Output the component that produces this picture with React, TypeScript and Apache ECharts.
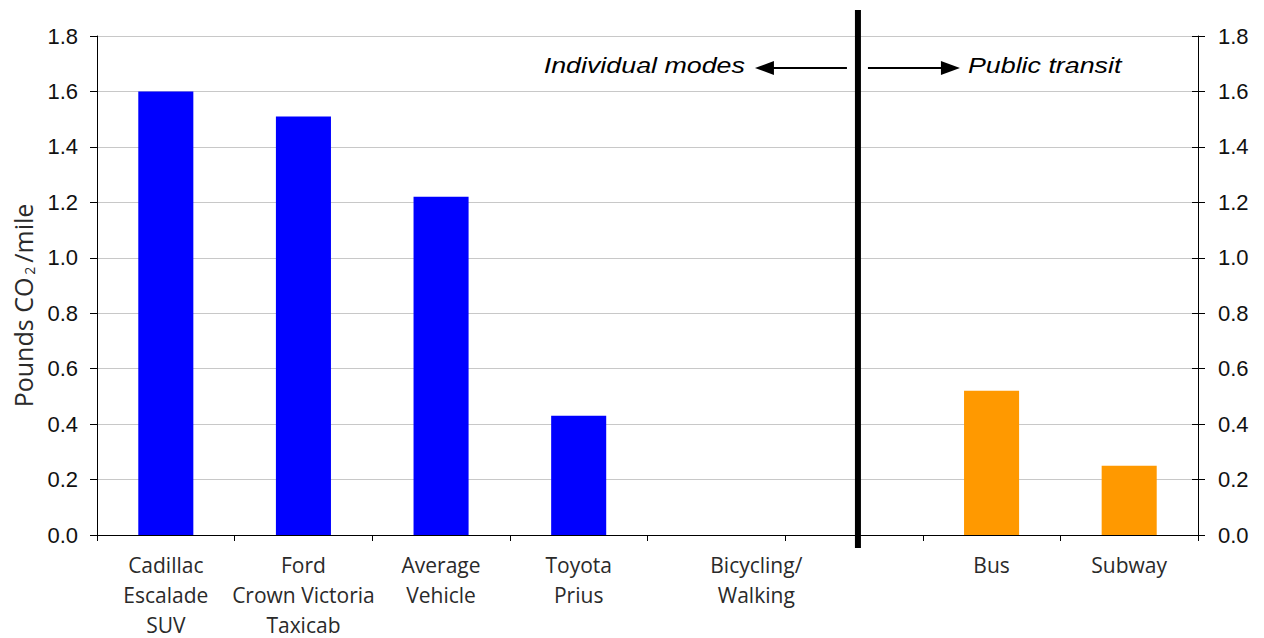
import React, { useEffect, useRef } from "react";
import * as echarts from "echarts";

const categories = [
  "Cadillac\nEscalade\nSUV",
  "Ford\nCrown Victoria\nTaxicab",
  "Average\nVehicle",
  "Toyota\nPrius",
  "Bicycling/\nWalking",
  "",
  "Bus",
  "Subway",
];
const individualValues: (number | string)[] = [1.6, 1.51, 1.22, 0.43, 0, "-", "-", "-"];
const transitValues: (number | string)[] = ["-", "-", "-", "-", "-", "-", 0.52, 0.25];
const yMin = 0;
const yMax = 1.8;
const yStep = 0.2;
const dividerIndex = 5;
const leftNote = "Individual modes";
const rightNote = "Public transit";
const yTitleParts = ["Pounds CO", "2", "/mile"];

const catFont = "'Open Sans', 'Noto Sans', sans-serif";
const numFont = "'Liberation Sans', Arial, sans-serif";

export default function App() {
  const ref = useRef<HTMLDivElement>(null);
  useEffect(() => {
    if (!ref.current) return;
    const chart = echarts.init(ref.current, null, { renderer: "svg" });
    const yLabel = {
      fontFamily: numFont,
      fontSize: 22,
      color: "#111",
      formatter: (v: number) => v.toFixed(1),
    };
    chart.setOption({
      animation: false,
      backgroundColor: "#fff",
      grid: {
        left: 97,
        right: 66,
        top: 36,
        bottom: 103,
        containLabel: false,
        outerBoundsMode: "none",
      },
      xAxis: {
        type: "category",
        data: categories,
        axisLine: { lineStyle: { color: "#000", width: 1 } },
        axisTick: { show: true, interval: 0, length: 6, lineStyle: { color: "#000" } },
        axisLabel: {
          interval: 0,
          margin: 15,
          fontFamily: catFont,
          fontSize: 21,
          lineHeight: 30,
          color: "#2a2a2a",
          formatter: (v: string, i: number) =>
            i === 4
              ? v
                  .split("\n")
                  .map((l) => `{shift|${l}}`)
                  .join("\n")
              : v,
          rich: {
            shift: {
              padding: [0, 0, 0, 80],
              fontFamily: catFont,
              fontSize: 21,
              lineHeight: 30,
              color: "#2a2a2a",
            },
          },
        },
      },
      yAxis: [
        {
          type: "value",
          min: yMin,
          max: yMax,
          interval: yStep,
          position: "left",
          name: `${yTitleParts[0]}{sub|${yTitleParts[1]}}${yTitleParts[2]}`,
          nameLocation: "middle",
          nameRotate: 90,
          nameGap: 60,
          nameTextStyle: {
            fontFamily: catFont,
            fontSize: 25,
            color: "#2a2a2a",
            padding: [0, 40, 0, 0],
            rich: {
              sub: {
                fontFamily: catFont,
                fontSize: 14,
                color: "#2a2a2a",
                padding: [14, 4, 0, 3],
              },
            },
          },
          axisLine: { show: true, lineStyle: { color: "#000", width: 1 } },
          axisTick: { show: true, length: 7, lineStyle: { color: "#000" } },
          axisLabel: { ...yLabel, margin: 19 },
          splitLine: { show: true, lineStyle: { color: "#c8c8c8", width: 1 } },
        },
        {
          type: "value",
          min: yMin,
          max: yMax,
          interval: yStep,
          position: "right",
          axisLine: { show: true, lineStyle: { color: "#000", width: 1 } },
          axisTick: { show: true, length: 7, lineStyle: { color: "#000" } },
          axisLabel: { ...yLabel, margin: 20 },
          splitLine: { show: false },
        },
        {
          type: "value",
          min: yMin,
          max: yMax,
          interval: yStep,
          position: "right",
          offset: 0,
          axisLine: { show: false },
          axisTick: { show: true, inside: true, length: 6, lineStyle: { color: "#000" } },
          axisLabel: { show: false },
          splitLine: { show: false },
        },
      ],
      series: [
        {
          type: "bar",
          stack: "all",
          barWidth: "40%",
          data: individualValues,
          itemStyle: { color: "#0000ff" },
        },
        {
          type: "bar",
          stack: "all",
          barWidth: "40%",
          data: transitValues,
          itemStyle: { color: "#ff9900" },
        },
      ],
    });

    const x = (chart.convertToPixel({ xAxisIndex: 0 }, dividerIndex) as number) + 4;
    const yTop = chart.convertToPixel({ yAxisIndex: 0 }, yMax) as number;
    const yBot = chart.convertToPixel({ yAxisIndex: 0 }, yMin) as number;
    const ay = yTop + 32;
    const textStyle = {
      fontFamily: numFont,
      fontStyle: "italic",
      fontSize: 22,
      fill: "#000",
      verticalAlign: "middle",
    };
    chart.setOption({
      graphic: [
        {
          type: "line",
          shape: { x1: x, y1: yTop - 26, x2: x, y2: yBot + 13 },
          style: { stroke: "#000", lineWidth: 6 },
          z: 100,
        },
        {
          type: "line",
          shape: { x1: x - 11, y1: ay, x2: x - 88, y2: ay },
          style: { stroke: "#000", lineWidth: 2 },
        },
        {
          type: "polygon",
          shape: { points: [[x - 103, ay], [x - 84, ay - 7], [x - 84, ay + 7]] },
          style: { fill: "#000" },
        },
        {
          type: "line",
          shape: { x1: x + 10, y1: ay, x2: x + 86, y2: ay },
          style: { stroke: "#000", lineWidth: 2 },
        },
        {
          type: "polygon",
          shape: { points: [[x + 102, ay], [x + 83, ay - 7], [x + 83, ay + 7]] },
          style: { fill: "#000" },
        },
        {
          type: "text",
          x: x - 113,
          y: ay - 3,
          scaleX: 1.22,
          style: { ...textStyle, text: leftNote, align: "right" },
        },
        {
          type: "text",
          x: x + 110,
          y: ay - 3,
          scaleX: 1.22,
          style: { ...textStyle, text: rightNote, align: "left" },
        },
      ],
    });
    return () => chart.dispose();
  }, []);
  return (
    <div
      ref={ref}
      style={{ position: "fixed", left: 0, top: 0, width: 1264, height: 638 }}
    />
  );
}
